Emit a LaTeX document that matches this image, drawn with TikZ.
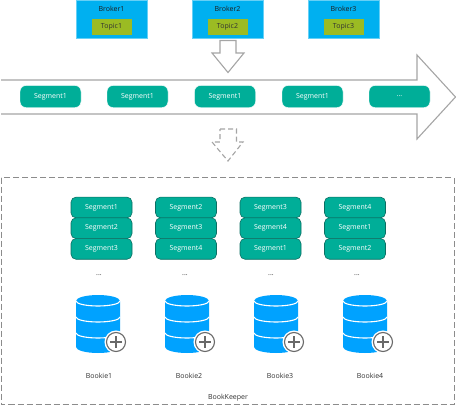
\documentclass[tikz,border=0pt]{standalone}
\usepackage{fontspec}
\setmainfont{Open Sans}
\usepackage{xcolor}
\usetikzlibrary{positioning}
\definecolor{brokerbg}{RGB}{0,176,240}
\definecolor{topicbg}{RGB}{155,187,35}
\definecolor{segbg}{RGB}{0,174,152}
\definecolor{segline}{RGB}{12,110,98}
\definecolor{diskbg}{RGB}{0,162,255}
\definecolor{hollow}{RGB}{165,165,165}
\definecolor{plusgray}{RGB}{105,105,105}
\definecolor{txtdark}{RGB}{50,50,50}

\begin{document}
\begin{tikzpicture}[
  x=1pt, y=-1pt,
  every node/.style={font=\fontsize{7}{8}\selectfont, inner sep=0pt, outer sep=0pt},
  broker/.style={fill=brokerbg, draw=brokerbg!60, line width=0.4pt, minimum width=71pt, minimum height=38pt},
  topic/.style={fill=topicbg, minimum width=40pt, minimum height=16pt, text=txtdark},
  brokertxt/.style={text=txtdark!60!black},
  seg/.style={fill=segbg, draw=white, line width=0.4pt, rounded corners=6pt, minimum width=61pt, minimum height=22pt, text=white},
  stackseg/.style={fill=segbg, draw=segline, line width=0.6pt, rounded corners=5pt, minimum width=61pt, minimum height=20.7pt, text=white},
  flow/.style={draw=hollow, line width=1.1pt, fill=white},
  dots/.style={text=txtdark},
  lbl/.style={text=txtdark},
  bookie/.pic={
    \fill[diskbg] (-22,-23) arc[start angle=180, end angle=360, x radius=22, y radius=6]
      -- (22,23) arc[start angle=0, end angle=180, x radius=22, y radius=6] -- cycle;
    \draw[white, line width=1.1pt] (-22,-23) arc[start angle=180, end angle=0, x radius=22, y radius=5];
    \draw[white, line width=1.1pt] (-22,-7) arc[start angle=180, end angle=0, x radius=22, y radius=5];
    \draw[white, line width=1.1pt] (-22,9) arc[start angle=180, end angle=0, x radius=22, y radius=5];
    \draw[fill=white, draw=white, line width=1pt] (18,18) circle[radius=11];
    \draw[fill=white, draw=plusgray, line width=1.1pt] (18,18) circle[radius=9.5];
    \draw[plusgray, line width=1.1pt] (12,18) -- (24,18) (18,12) -- (18,24);
  }
]
  \useasboundingbox (0,0) rectangle (456,405);

  % brokers
  \node[broker] (broker1) at (111.5,19) {};
  \node[broker] (broker2) at (227.5,19) {};
  \node[broker] (broker3) at (343.5,19) {};
  \node[topic] (topic1) at (111.5,27) {Topic1};
  \node[topic] (topic2) at (227.5,27) {Topic2};
  \node[topic] (topic3) at (343.5,27) {Topic3};
  \node[brokertxt] (name1) at (111.5,9) {Broker1};
  \node[brokertxt] (name2) at (227.5,9) {Broker2};
  \node[brokertxt] (name3) at (343.5,9) {Broker3};

  % arrows
  \draw[flow] (220,40.5) -- (236,40.5) -- (236,53) -- (244,53) -- (228,72.5) -- (212,53) -- (220,53) -- cycle;
  \draw[flow] (1,80) -- (417,80) -- (417,55) -- (455.5,97) -- (417,139) -- (417,114) -- (1,114);
  \draw[flow, dash pattern=on 5pt off 3pt] (220,129) -- (236.5,129) -- (236.5,142) -- (243,142) -- (228,161) -- (212,142) -- (220,142) -- cycle;

  % log
  \node[seg] (log1) at (50.5,96.5) {Segment1};
  \node[seg, right=26pt of log1] (log2) {Segment1};
  \node[seg, right=26.5pt of log2] (log3) {Segment1};
  \node[seg, right=26.5pt of log3] (log4) {Segment1};
  \node[seg, right=26pt of log4] (log5) {...};

  % bookkeeper
  \draw[hollow!85!black, dash pattern=on 6pt off 3pt, line width=0.8pt] (1,177.5) rectangle (454,404);
  \node[stackseg] (a1) at (101.5,207.5) {Segment1};
  \node[stackseg, below=0pt of a1] (a2) {Segment2};
  \node[stackseg, below=0pt of a2] (a3) {Segment3};
  \node[stackseg] (b1) at (186,207.5) {Segment2};
  \node[stackseg, below=0pt of b1] (b2) {Segment3};
  \node[stackseg, below=0pt of b2] (b3) {Segment4};
  \node[stackseg] (c1) at (270.5,207.5) {Segment3};
  \node[stackseg, below=0pt of c1] (c2) {Segment4};
  \node[stackseg, below=0pt of c2] (c3) {Segment1};
  \node[stackseg] (d1) at (355,207.5) {Segment4};
  \node[stackseg, below=0pt of d1] (d2) {Segment1};
  \node[stackseg, below=0pt of d2] (d3) {Segment2};

  \node[dots] (dots1) at (99,275) {...};
  \node[dots] (dots2) at (185,275) {...};
  \node[dots] (dots3) at (271,275) {...};
  \node[dots] (dots4) at (357,275) {...};

  \pic at (98,324) {bookie};
  \pic at (187,324) {bookie};
  \pic at (276,324) {bookie};
  \pic at (365,324) {bookie};

  \node[lbl] (bookie1) at (99,376) {Bookie1};
  \node[lbl] (bookie2) at (189,376) {Bookie2};
  \node[lbl] (bookie3) at (280,376) {Bookie3};
  \node[lbl] (bookie4) at (370,376) {Bookie4};
  \node[lbl] (bk) at (228,397.5) {BookKeeper};
\end{tikzpicture}
\end{document}
